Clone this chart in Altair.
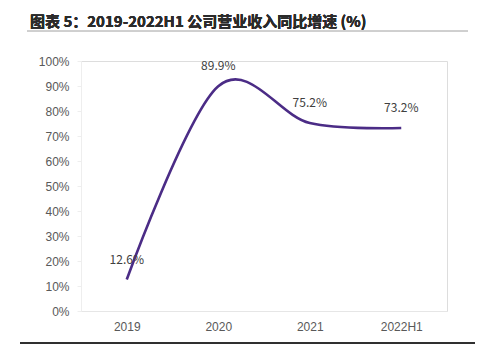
import altair as alt
import pandas as pd

years = ["2019", "2020", "2021", "2022H1"]
growth = [12.6, 89.9, 75.2, 73.2]
labels = ["12.6%", "89.9%", "75.2%", "73.2%"]

df = pd.DataFrame({"year": years, "growth": growth, "label": labels})

W, H = 366, 250
x = alt.X("year:N", sort=years, title=None,
          scale=alt.Scale(paddingInner=0, paddingOuter=0.5),
          axis=alt.Axis(labelAngle=0, labelFontSize=12, labelColor="#595959",
                        labelFont="Liberation Sans", ticks=False, domainColor="#e6e6e6",
                        labelPadding=10))
y = alt.Y("growth:Q", title=None,
          scale=alt.Scale(domain=[0, 100], nice=False),
          axis=alt.Axis(values=list(range(0, 101, 10)), labelExpr="datum.value + '%'",
                        labelOverlap=False, tickCount=11,
                        labelFontSize=12, labelColor="#595959", labelFont="Liberation Sans",
                        grid=False, tickColor="#eeeeee", tickSize=4, domainColor="#eeeeee",
                        labelPadding=8))

base = alt.Chart(df).encode(x=x, y=y)

line = base.mark_line(color="#4B2C86", strokeWidth=2.6, interpolate="cardinal")

text = base.mark_text(dy=-20, fontSize=12, color="#404040",
                      font="Noto Sans CJK SC").encode(text="label:N")

title = alt.Chart(df).mark_text(align="left", baseline="middle", fontSize=15,
                                fontWeight="bold", color="#2b2b2b",
                                font="Noto Sans CJK SC").encode(
    x=alt.value(-51), y=alt.value(-39),
    text=alt.value("图表 5：2019-2022H1 公司营业收入同比增速 (%)"))

top_rule = alt.Chart(df).mark_rule(color="#cccccc", strokeWidth=1).encode(
    x=alt.value(-54), x2=alt.value(387), y=alt.value(-30))

bottom_rule = alt.Chart(df).mark_rule(color="#222222", strokeWidth=1).encode(
    x=alt.value(-61), x2=alt.value(394), y=alt.value(282))

chart = alt.layer(line, text, top_rule, bottom_rule, title).properties(
    width=W, height=H,
    autosize=alt.AutoSizeParams(type="none"),
    padding={"left": 81, "top": 61, "right": 32, "bottom": 36},
).configure_view(stroke=None).configure(background="white")

chart.save("out.html", embed_options={"renderer": "svg", "actions": False})
